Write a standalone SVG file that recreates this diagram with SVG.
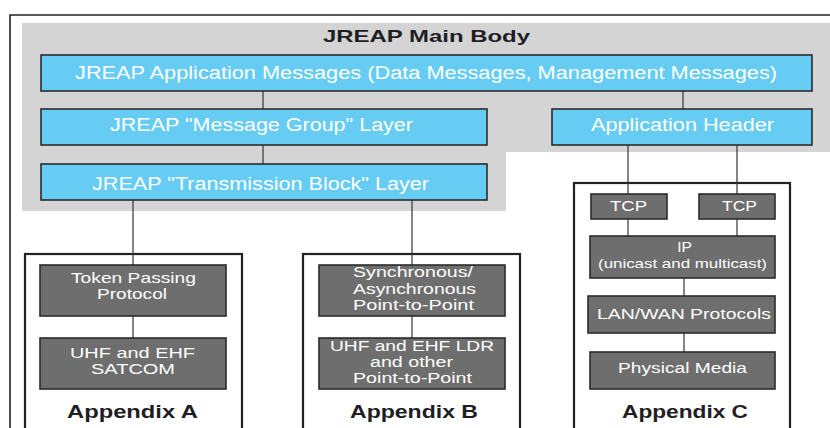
<svg xmlns="http://www.w3.org/2000/svg" width="830" height="428" viewBox="0 0 830 428">
  <style>
    .frame { fill: none; stroke: #222; stroke-width: 1.6; }
    .blue { fill: #66ccf3; stroke: #2b2b2b; stroke-width: 1.6; }
    .dark { fill: #6e6e6e; stroke: #2b2b2b; stroke-width: 1.6; }
    .box { fill: #ffffff; stroke: #222; stroke-width: 2.2; }
    .wire { stroke: #333; stroke-width: 1.2; fill: none; }
    text { font-family: "Liberation Sans", Arial, sans-serif; text-anchor: middle; }
    .tb { font-size: 18px; fill: #ffffff; }
    .tg { font-size: 15.5px; fill: #ffffff; }
    .ts { font-size: 13px; fill: #ffffff; }
    .title { font-size: 16.5px; font-weight: bold; fill: #1e1e24; }
    .appx { font-size: 19px; font-weight: bold; fill: #1e1e24; }
  </style>

  <rect width="830" height="428" fill="#ffffff"/>

  <!-- outer frame (top and left edges) -->
  <path class="frame" d="M10,428 V15 H830"/>

  <!-- main body shaded area -->
  <g id="main-body">
    <path d="M22,23 H830 V152 H506 V211 H22 Z" fill="#d4d4d5"/>
    <text class="title" x="426.5" y="42" textLength="207" lengthAdjust="spacingAndGlyphs">JREAP Main Body</text>
  </g>

  <!-- appendix frames -->
  <g id="appendix-a">
    <rect class="box" x="25" y="254" width="217" height="190"/>
    <text class="appx" x="132.5" y="418" textLength="131" lengthAdjust="spacingAndGlyphs">Appendix A</text>
  </g>
  <g id="appendix-b">
    <rect class="box" x="303" y="254" width="217" height="190"/>
    <text class="appx" x="414" y="418" textLength="128" lengthAdjust="spacingAndGlyphs">Appendix B</text>
  </g>
  <g id="appendix-c">
    <rect class="box" x="574" y="183" width="216" height="260"/>
    <text class="appx" x="685" y="418" textLength="126" lengthAdjust="spacingAndGlyphs">Appendix C</text>
  </g>

  <!-- connectors -->
  <g id="connectors" class="wire">
    <line x1="263" y1="91" x2="263" y2="109"/>
    <line x1="263" y1="145" x2="263" y2="164"/>
    <line x1="683" y1="91" x2="683" y2="109"/>
    <line x1="133" y1="200" x2="133" y2="265"/>
    <line x1="412" y1="200" x2="412" y2="265"/>
    <line x1="628" y1="145" x2="628" y2="194"/>
    <line x1="737" y1="145" x2="737" y2="194"/>
    <line x1="133" y1="316" x2="133" y2="338"/>
    <line x1="412" y1="316" x2="412" y2="338"/>
    <line x1="628" y1="219" x2="628" y2="236"/>
    <line x1="737" y1="219" x2="737" y2="236"/>
    <line x1="684" y1="278" x2="684" y2="296"/>
    <line x1="684" y1="333" x2="684" y2="352"/>
  </g>

  <!-- main body layers -->
  <g id="app-messages">
    <rect class="blue" x="41" y="55" width="771" height="36"/>
    <text class="tb" x="426" y="79" textLength="702" lengthAdjust="spacingAndGlyphs">JREAP Application Messages (Data Messages, Management Messages)</text>
  </g>
  <g id="message-group">
    <rect class="blue" x="41" y="109" width="446" height="36"/>
    <text class="tb" x="261.5" y="131" textLength="303" lengthAdjust="spacingAndGlyphs">JREAP "Message Group" Layer</text>
  </g>
  <g id="transmission-block">
    <rect class="blue" x="41" y="164" width="446" height="36"/>
    <text class="tb" x="260.5" y="190" textLength="337" lengthAdjust="spacingAndGlyphs">JREAP "Transmission Block" Layer</text>
  </g>
  <g id="application-header">
    <rect class="blue" x="552" y="109" width="260" height="36"/>
    <text class="tb" x="682.5" y="131" textLength="183" lengthAdjust="spacingAndGlyphs">Application Header</text>
  </g>

  <!-- Appendix A stack -->
  <g id="token-passing">
    <rect class="dark" x="40" y="265" width="186" height="51"/>
    <text class="tg" x="133.5" y="283" textLength="125" lengthAdjust="spacingAndGlyphs">Token Passing</text>
    <text class="tg" x="132" y="299" textLength="70" lengthAdjust="spacingAndGlyphs">Protocol</text>
  </g>
  <g id="uhf-ehf-satcom">
    <rect class="dark" x="40" y="338" width="186" height="51"/>
    <text class="tg" x="132.5" y="358" textLength="125" lengthAdjust="spacingAndGlyphs">UHF and EHF</text>
    <text class="tg" x="133" y="374" textLength="84" lengthAdjust="spacingAndGlyphs">SATCOM</text>
  </g>

  <!-- Appendix B stack -->
  <g id="sync-async">
    <rect class="dark" x="319" y="265" width="186" height="51"/>
    <text class="tg" x="413" y="277" textLength="120" lengthAdjust="spacingAndGlyphs">Synchronous/</text>
    <text class="tg" x="414.5" y="294" textLength="123" lengthAdjust="spacingAndGlyphs">Asynchronous</text>
    <text class="tg" x="413.5" y="310" textLength="121" lengthAdjust="spacingAndGlyphs">Point-to-Point</text>
  </g>
  <g id="uhf-ehf-ldr">
    <rect class="dark" x="319" y="338" width="186" height="51"/>
    <text class="tg" x="412" y="351" textLength="164" lengthAdjust="spacingAndGlyphs">UHF and EHF LDR</text>
    <text class="tg" x="411.5" y="367" textLength="83" lengthAdjust="spacingAndGlyphs">and other</text>
    <text class="tg" x="412.5" y="383" textLength="119" lengthAdjust="spacingAndGlyphs">Point-to-Point</text>
  </g>

  <!-- Appendix C stack -->
  <g id="tcp-1">
    <rect class="dark" x="591" y="194" width="76" height="25"/>
    <text class="tg" x="628.5" y="211" textLength="37" lengthAdjust="spacingAndGlyphs">TCP</text>
  </g>
  <g id="tcp-2">
    <rect class="dark" x="699" y="194" width="76" height="25"/>
    <text class="tg" x="739.5" y="211" textLength="35" lengthAdjust="spacingAndGlyphs">TCP</text>
  </g>
  <g id="ip">
    <rect class="dark" x="590" y="236" width="185" height="42"/>
    <text class="tg" x="684.5" y="252">IP</text>
    <text class="ts" x="682.5" y="268" textLength="169" lengthAdjust="spacingAndGlyphs">(unicast and multicast)</text>
  </g>
  <g id="lan-wan">
    <rect class="dark" x="588" y="296" width="187" height="37"/>
    <text class="tg" x="684" y="319" textLength="174" lengthAdjust="spacingAndGlyphs">LAN/WAN Protocols</text>
  </g>
  <g id="physical-media">
    <rect class="dark" x="590" y="352" width="185" height="37"/>
    <text class="tg" x="682.5" y="373" textLength="129" lengthAdjust="spacingAndGlyphs">Physical Media</text>
  </g>
</svg>
